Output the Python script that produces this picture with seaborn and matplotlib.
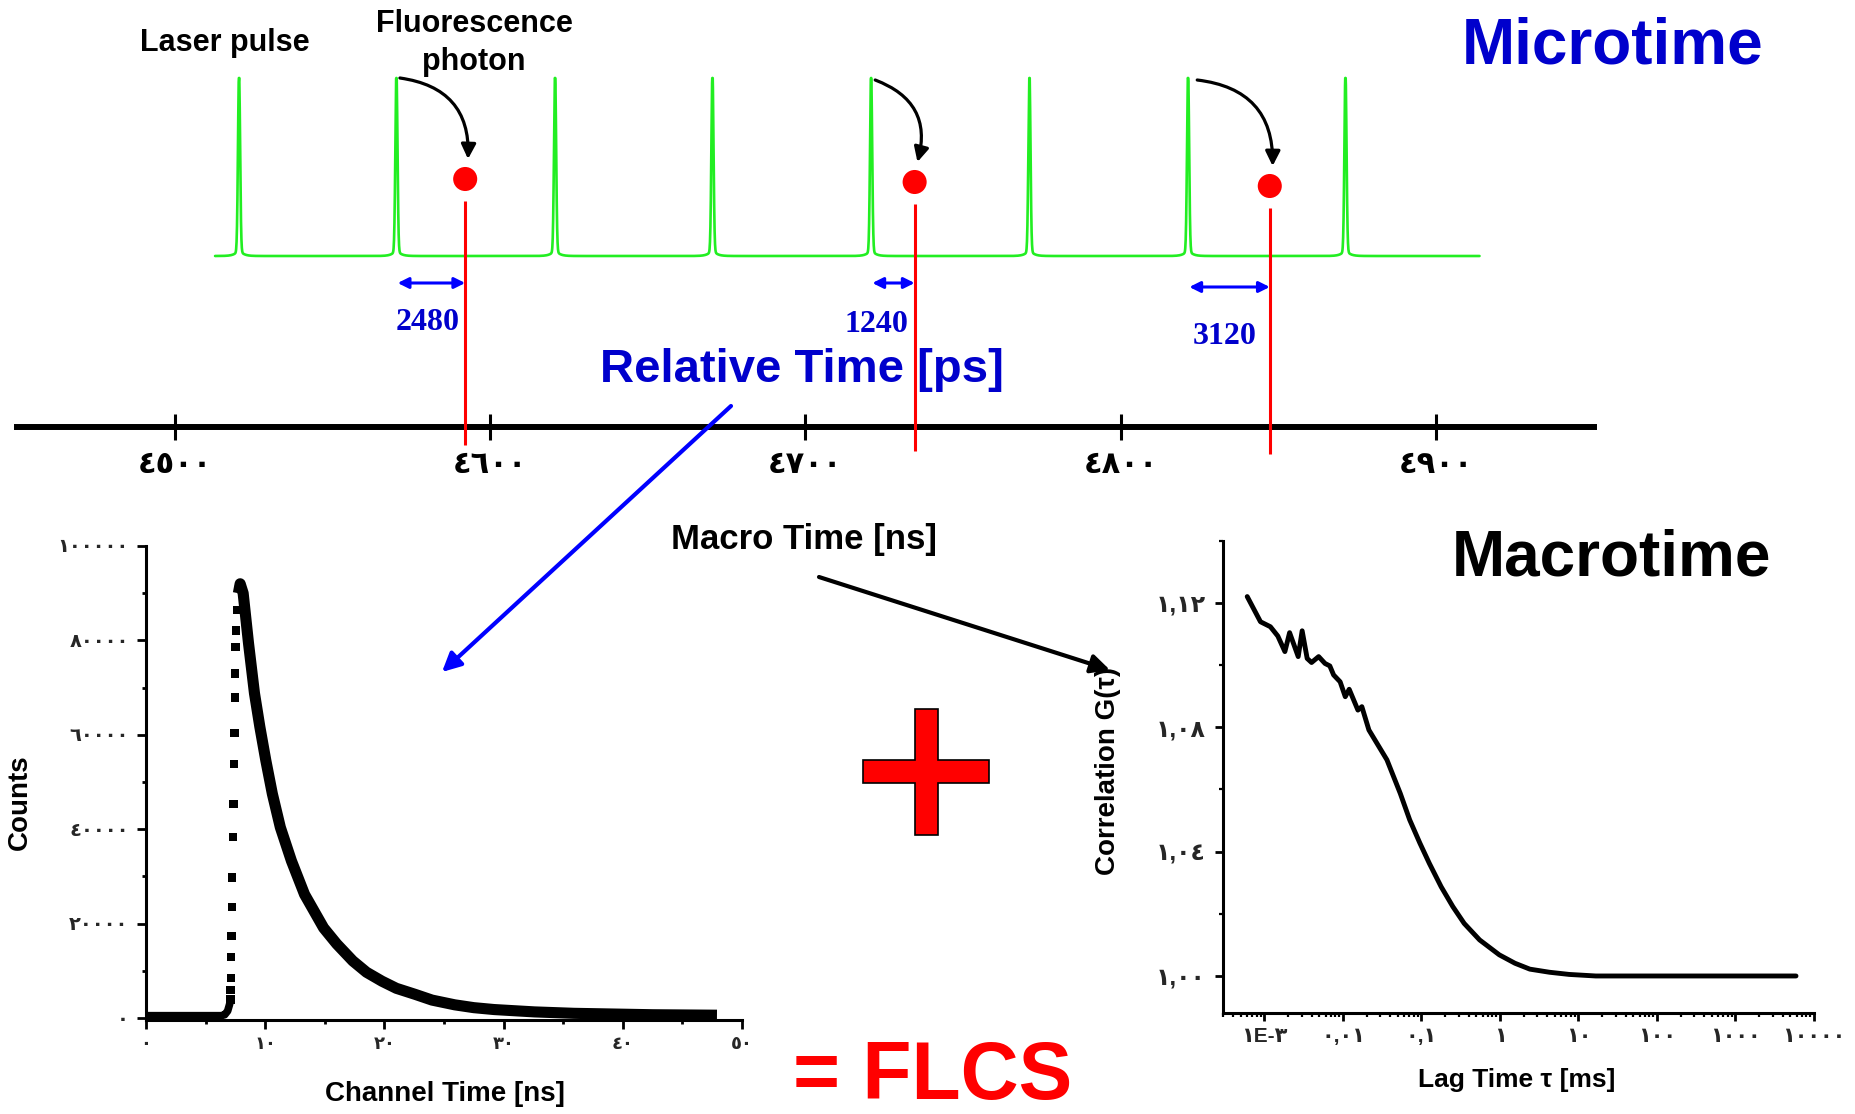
import numpy as np
import pandas as pd
import matplotlib
matplotlib.use('Agg')
import matplotlib.pyplot as plt
import seaborn as sns
from matplotlib.patches import FancyArrowPatch, Polygon
from matplotlib.ticker import FixedLocator, FixedFormatter, MultipleLocator, LogLocator, NullFormatter

# ---------------- data ----------------
macro_ticks = [4500, 4600, 4700, 4800, 4900]
macro_tick_labels = ['٤٥٠٠', '٤٦٠٠', '٤٧٠٠', '٤٨٠٠', '٤٩٠٠']
pulse_times = [4520.4, 4570.3, 4620.6, 4670.5, 4720.8, 4771.0, 4821.3, 4871.2]
photon_times = [4592.1, 4734.6, 4847.2]
photon_pulse = [4570.3, 4720.8, 4821.3]
relative_ps = ['2480', '1240', '3120']

baseline_t = [0.0, 6.3, 6.6, 6.85, 7.0, 7.1]
baseline_counts = [500, 500, 700, 1500, 2800, 3900]
rise_t = [7.10, 7.10, 7.12, 7.15, 7.18, 7.24, 7.24, 7.30, 7.33, 7.36, 7.42, 7.45, 7.48, 7.51, 7.54, 7.64]
rise_counts = [3900, 6000, 8500, 12900, 17400, 23500, 29800, 38300, 45400, 53800,
               60400, 67900, 73000, 78600, 82100, 86500]
decay_t = [7.75, 7.9, 8.15, 8.6, 9.1, 9.55, 10.05, 10.6, 11.27, 12.2, 13.3, 14.9, 16.0,
           17.35, 18.5, 19.8, 21.0, 22.6, 24.0, 25.9, 27.5, 29.2, 32.6, 35.9, 39.2, 42.5, 47.9]
decay_counts = [90000, 92000, 90000, 79400, 68800, 61700, 54600, 47500, 40400, 33300, 26200,
                19100, 15700, 12100, 9700, 7800, 6300, 5000, 3800, 2800, 2200, 1800, 1300,
                1000, 850, 700, 600]
count_ticks = [0, 20000, 40000, 60000, 80000, 100000]
count_tick_labels = ['٠', '٢٠٠٠٠', '٤٠٠٠٠', '٦٠٠٠٠', '٨٠٠٠٠', '١٠٠٠٠٠']
channel_ticks = [0, 10, 20, 30, 40, 50]
channel_tick_labels = ['٠', '١٠', '٢٠', '٣٠', '٤٠', '٥٠']

lag_ms = [6.03e-4, 8.9e-4, 1.19e-3, 1.48e-3, 1.82e-3, 2.09e-3, 2.69e-3, 3.02e-3, 3.5e-3,
          3.98e-3, 4.9e-3, 5.9e-3, 6.8e-3, 7.6e-3, 9.2e-3, 1.07e-2, 1.2e-2, 1.55e-2, 1.74e-2,
          2.14e-2, 2.88e-2, 3.63e-2, 5.37e-2, 7.08e-2, 9.55e-2, 0.126, 0.178, 0.251, 0.35,
          0.55, 0.98, 1.55, 2.4, 4.27, 7.6, 16.6, 229, 5900]
g_tau = [1.1220, 1.1139, 1.1123, 1.1093, 1.1043, 1.1104, 1.1027, 1.1110, 1.1021, 1.1008,
         1.1027, 1.1005, 1.0997, 1.0968, 1.0946, 1.0898, 1.0922, 1.0855, 1.0866, 1.0791,
         1.0737, 1.0695, 1.0587, 1.0502, 1.0427, 1.0362, 1.0287, 1.0223, 1.0169, 1.0116,
         1.0068, 1.0041, 1.0022, 1.0012, 1.0005, 1.0000, 1.0000, 1.0000]
lag_ticks = [1e-3, 1e-2, 0.1, 1, 10, 100, 1000, 10000]
lag_tick_labels = ['١E-٣', '٠,٠١', '٠,١', '١', '١٠', '١٠٠', '١٠٠٠', '١٠٠٠٠']
g_ticks = [1.00, 1.04, 1.08, 1.12]
g_tick_labels = ['١,٠٠', '١,٠٤', '١,٠٨', '١,١٢']

# ---------------- style ----------------
sns.set_theme(style='white')
plt.rcParams['font.family'] = ['Liberation Sans', 'DejaVu Sans']
plt.rcParams['font.weight'] = 'bold'
plt.rcParams['axes.linewidth'] = 2.2

W, H = 1855, 1114
fig = plt.figure(figsize=(W / 100, H / 100), dpi=100)
fig.patch.set_facecolor('white')

GREEN = '#22EE22'
RED = '#FF0000'
BLUE = '#0000FF'
DBLUE = '#0000CC'

# ---------------- top: pulse train / macro time axis ----------------
ax_top = fig.add_axes([17 / W, 1 - 427 / H, 1577 / W, 427 / H])
ax_top.patch.set_alpha(0)

base_y, peak_y = 256, 78
tgrid = np.linspace(4512.8, 4913.7, 6000)
trace = np.zeros_like(tgrid)
for p in pulse_times:
    trace += np.exp(-0.5 * ((tgrid - p) / 0.33) ** 2) + 0.04 * np.exp(-np.abs(tgrid - p) / 1.2)
trace = np.clip(trace, 0, 1)
pulse_df = pd.DataFrame({'t': tgrid, 'y': base_y - (base_y - peak_y) * trace})
sns.lineplot(data=pulse_df, x='t', y='y', ax=ax_top, color=GREEN, lw=1.9,
             estimator=None, sort=False)

ax_top.set_xlim(4450, 4950)
ax_top.set_ylim(427, 0)
ax_top.set_xlabel('')
ax_top.set_ylabel('')
for s in ['top', 'left', 'right']:
    ax_top.spines[s].set_visible(False)
ax_top.spines['bottom'].set_linewidth(4.3)
ax_top.spines['bottom'].set_color('black')
ax_top.set_yticks([])
ax_top.set_xticks(macro_ticks)
ax_top.set_xticklabels(macro_tick_labels, fontweight='bold')
ax_top.tick_params(axis='x', direction='inout', length=19.4, width=2.2, pad=7.0,
                   labelsize=22, bottom=True, colors='black')

dot_y = [179, 182, 186]
line_bottom = [445, 451, 454]
ax_top.vlines(photon_times, [d + 22 for d in dot_y], line_bottom, colors=RED, lw=2.2,
              clip_on=False, zorder=3)
sns.scatterplot(x=photon_times, y=dot_y, ax=ax_top, color=RED, s=300, edgecolor='none',
                zorder=4, clip_on=False)
ax_top.set_xlabel('')
ax_top.set_ylabel('')

arrow_y = [283, 283, 287]
for pt, ph, ay in zip(photon_pulse, photon_times, arrow_y):
    ax_top.annotate('', xy=(ph, ay), xytext=(pt + 0.4, ay),
                    arrowprops=dict(arrowstyle='<|-|>', color=BLUE, lw=2.2,
                                    mutation_scale=16, shrinkA=0, shrinkB=0))

label_off = [1.9, 1.9, 4.1]
label_y = [323, 325, 336]
for ph, lab, off, ly in zip(photon_times, relative_ps, label_off, label_y):
    ax_top.text(ph - off, ly, lab, ha='right', va='center', color=DBLUE,
                fontfamily='Liberation Serif', fontweight='bold', fontsize=23)

curve_start_off = [1.1, 1.3, 2.9]
curve_start_y = [78, 80, 80]
for pt, ph, off, sy, dy in zip(photon_pulse, photon_times, curve_start_off, curve_start_y, dot_y):
    arr = FancyArrowPatch((pt + off, sy), (ph + 0.9, dy - 20),
                          connectionstyle='arc3,rad=-0.45', arrowstyle='-|>',
                          mutation_scale=22, lw=2.3, color='black', shrinkA=0, shrinkB=0)
    ax_top.add_patch(arr)

# ---------------- bottom-left: lifetime decay ----------------
ax_l = fig.add_axes([146 / W, (H - 1020.4) / H, 596 / W, 474.4 / H])
ax_l.patch.set_alpha(0)
line_df = pd.DataFrame({'t': baseline_t + decay_t, 'c': baseline_counts + decay_counts})
sns.lineplot(data=line_df.iloc[:len(baseline_t)], x='t', y='c', ax=ax_l, color='black',
             lw=5.5, estimator=None, sort=False)
sns.lineplot(data=line_df.iloc[len(baseline_t):], x='t', y='c', ax=ax_l, color='black',
             lw=8.0, estimator=None, sort=False, solid_joinstyle='round', solid_capstyle='butt')
sns.scatterplot(x=rise_t, y=rise_counts, ax=ax_l, color='black', marker='s', s=36,
                edgecolor='none')
ax_l.set_xlim(0, 50)
ax_l.set_ylim(-500, 100000)
for s in ['top', 'right']:
    ax_l.spines[s].set_visible(False)
for s in ['left', 'bottom']:
    ax_l.spines[s].set_color('black')
    ax_l.spines[s].set_linewidth(2.2)
ax_l.xaxis.set_major_locator(FixedLocator(channel_ticks))
ax_l.xaxis.set_major_formatter(FixedFormatter(channel_tick_labels))
ax_l.yaxis.set_major_locator(FixedLocator(count_ticks))
ax_l.yaxis.set_major_formatter(FixedFormatter(count_tick_labels))
ax_l.xaxis.set_minor_locator(MultipleLocator(5))
ax_l.yaxis.set_minor_locator(MultipleLocator(10000))
ax_l.tick_params(which='major', direction='out', length=6.5, width=2.0, color='black',
                 left=True, bottom=True)
ax_l.tick_params(which='minor', direction='out', length=3.0, width=2.0, color='black',
                 left=True, bottom=True)
ax_l.tick_params(axis='x', which='major', labelsize=13, pad=5)
ax_l.tick_params(axis='y', which='major', labelsize=14, pad=6)
for lab in ax_l.get_xticklabels() + ax_l.get_yticklabels():
    lab.set_fontweight('bold')
ax_l.set_xlabel('Channel Time [ns]', fontsize=20, fontweight='bold', color='black')
ax_l.set_ylabel('Counts', fontsize=20, fontweight='bold', color='black')
ax_l.xaxis.set_label_coords((445 - 146) / 596, (1020.4 - 1094) / 474.4)
ax_l.yaxis.set_label_coords((20 - 146) / 596, (1020.4 - 802) / 474.4)
ax_l.xaxis.label.set_va('center')
ax_l.yaxis.label.set_va('center')

# ---------------- bottom-right: correlation ----------------
ax_r = fig.add_axes([1222.7 / W, (H - 1013.3) / H, 591.3 / W, 472.7 / H])
ax_r.patch.set_alpha(0)
sns.lineplot(x=lag_ms, y=g_tau, ax=ax_r, color='black', lw=3.5, estimator=None, sort=False)
ax_r.set_xscale('log')
ax_r.set_xlim(10 ** -3.532, 1e4)
ax_r.set_ylim(0.988, 1.14)
for s in ['top', 'right']:
    ax_r.spines[s].set_visible(False)
for s in ['left', 'bottom']:
    ax_r.spines[s].set_color('black')
    ax_r.spines[s].set_linewidth(2.2)
ax_r.xaxis.set_major_locator(FixedLocator(lag_ticks))
ax_r.xaxis.set_major_formatter(FixedFormatter(lag_tick_labels))
ax_r.xaxis.set_minor_locator(LogLocator(base=10, subs=np.arange(2, 10), numticks=20))
ax_r.xaxis.set_minor_formatter(NullFormatter())
ax_r.yaxis.set_major_locator(FixedLocator(g_ticks))
ax_r.yaxis.set_major_formatter(FixedFormatter(g_tick_labels))
ax_r.yaxis.set_minor_locator(MultipleLocator(0.02))
ax_r.tick_params(which='major', direction='out', length=6.0, width=2.0, color='black',
                 left=True, bottom=True)
ax_r.tick_params(which='minor', direction='out', length=3.0, width=1.6, color='black',
                 left=True, bottom=True)
ax_r.tick_params(axis='x', which='major', labelsize=15, pad=4)
ax_r.tick_params(axis='y', which='major', labelsize=17, pad=6)
for lab in ax_r.get_xticklabels() + ax_r.get_yticklabels():
    lab.set_fontweight('bold')
ax_r.set_xlabel('Lag Time τ [ms]', fontsize=19, fontweight='bold', color='black')
ax_r.set_ylabel('Correlation G(τ)', fontsize=20, fontweight='bold', color='black')
ax_r.xaxis.set_label_coords((1517 - 1222.7) / 591.3, (1013.3 - 1080) / 472.7)
ax_r.yaxis.set_label_coords((1108 - 1222.7) / 591.3, (1013.3 - 771) / 472.7)
ax_r.xaxis.label.set_va('center')
ax_r.yaxis.label.set_va('center')

# ---------------- overlay: annotations ----------------
ov = fig.add_axes([0, 0, 1, 1])
ov.set_xlim(0, W)
ov.set_ylim(H, 0)
ov.axis('off')
ov.patch.set_alpha(0)

ov.text(225, 43, 'Laser pulse', ha='center', va='center', fontsize=22, fontweight='bold', color='black')
ov.text(474, 24, 'Fluorescence', ha='center', va='center', fontsize=22, fontweight='bold', color='black')
ov.text(474, 62, 'photon', ha='center', va='center', fontsize=22, fontweight='bold', color='black')
ov.text(1613, 46, 'Microtime', ha='center', va='center', fontsize=46, fontweight='bold', color=DBLUE)
ov.text(802, 370, 'Relative Time [ps]', ha='center', va='center', fontsize=34, fontweight='bold', color=DBLUE)
ov.text(804, 539, 'Macro Time [ns]', ha='center', va='center', fontsize=25, fontweight='bold', color='black')
ov.text(1611, 558, 'Macrotime', ha='center', va='center', fontsize=46, fontweight='bold', color='black')
ov.text(933, 1078, '= FLCS', ha='center', va='center', fontsize=58, fontweight='bold', color=RED)

ov.add_patch(FancyArrowPatch((731, 406), (442, 672), arrowstyle='-|>', mutation_scale=28,
                             lw=3.0, color=BLUE, shrinkA=0, shrinkB=0))
ov.add_patch(FancyArrowPatch((819, 577), (1110, 670), arrowstyle='-|>', mutation_scale=28,
                             lw=3.0, color='black', shrinkA=0, shrinkB=0))

cross = [(863, 760), (915, 760), (915, 709), (938, 709), (938, 760), (989, 760), (989, 783),
         (938, 783), (938, 835), (915, 835), (915, 783), (863, 783)]
ov.add_patch(Polygon(cross, closed=True, facecolor=RED, edgecolor='black', lw=1.2))

fig.savefig('out.png', dpi=100, facecolor='white')
